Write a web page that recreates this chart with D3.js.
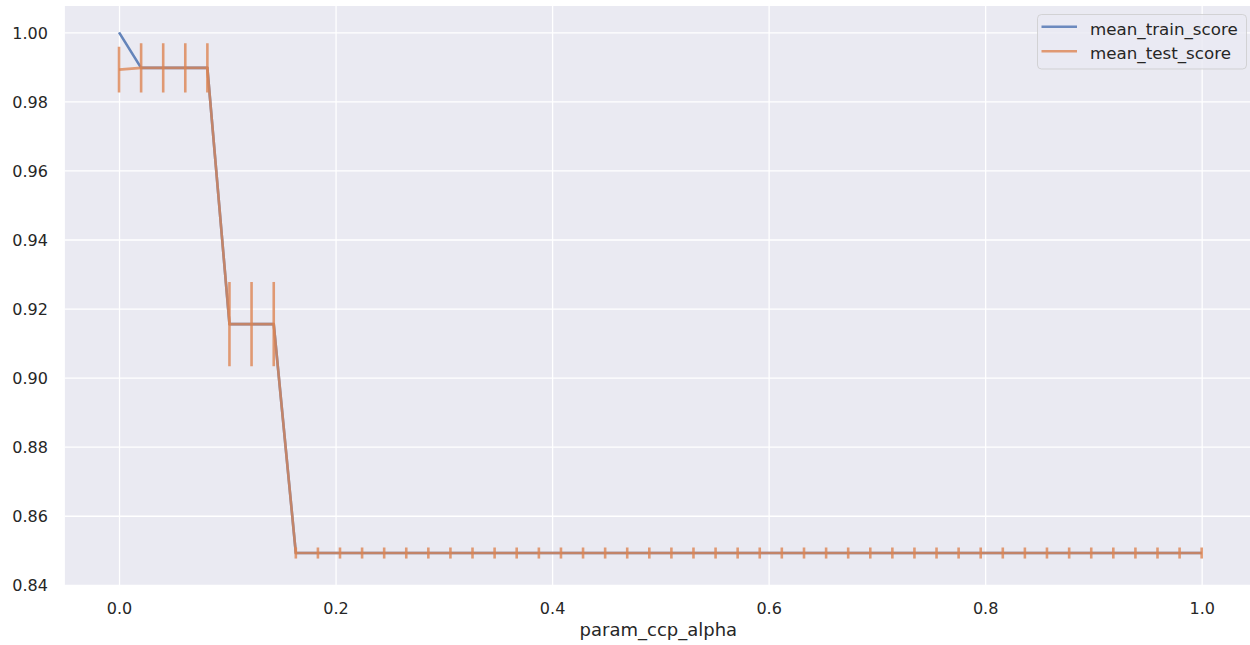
<!DOCTYPE html>
<html>
<head>
<meta charset="utf-8">
<script src="https://cdn.jsdelivr.net/npm/d3@7"></script>
<style>
  html, body { margin: 0; padding: 0; background: #ffffff; }
  svg { display: block; }
  text { font-family: "DejaVu Sans", sans-serif; fill: #262626; }
</style>
</head>
<body>
<div id="chart"></div>
<script>
// ---- data ----
const ccpAlpha = [0.0000, 0.0204, 0.0408, 0.0612, 0.0816, 0.1020, 0.1224, 0.1429, 0.1633, 0.1837,
  0.2041, 0.2245, 0.2449, 0.2653, 0.2857, 0.3061, 0.3265, 0.3469, 0.3673, 0.3878,
  0.4082, 0.4286, 0.4490, 0.4694, 0.4898, 0.5102, 0.5306, 0.5510, 0.5714, 0.5918,
  0.6122, 0.6327, 0.6531, 0.6735, 0.6939, 0.7143, 0.7347, 0.7551, 0.7755, 0.7959,
  0.8163, 0.8367, 0.8571, 0.8776, 0.8980, 0.9184, 0.9388, 0.9592, 0.9796, 1.0000];
const meanTrainScore = [1.0000, 0.9897, 0.9897, 0.9897, 0.9897, 0.9155, 0.9155, 0.9155,
  0.8492, 0.8492, 0.8492, 0.8492, 0.8492, 0.8492, 0.8492, 0.8492, 0.8492, 0.8492, 0.8492, 0.8492,
  0.8492, 0.8492, 0.8492, 0.8492, 0.8492, 0.8492, 0.8492, 0.8492, 0.8492, 0.8492,
  0.8492, 0.8492, 0.8492, 0.8492, 0.8492, 0.8492, 0.8492, 0.8492, 0.8492, 0.8492,
  0.8492, 0.8492, 0.8492, 0.8492, 0.8492, 0.8492, 0.8492, 0.8492, 0.8492, 0.8492];
const meanTestScore = [0.9892, 0.9897, 0.9897, 0.9897, 0.9897, 0.9155, 0.9155, 0.9155,
  0.8492, 0.8492, 0.8492, 0.8492, 0.8492, 0.8492, 0.8492, 0.8492, 0.8492, 0.8492, 0.8492, 0.8492,
  0.8492, 0.8492, 0.8492, 0.8492, 0.8492, 0.8492, 0.8492, 0.8492, 0.8492, 0.8492,
  0.8492, 0.8492, 0.8492, 0.8492, 0.8492, 0.8492, 0.8492, 0.8492, 0.8492, 0.8492,
  0.8492, 0.8492, 0.8492, 0.8492, 0.8492, 0.8492, 0.8492, 0.8492, 0.8492, 0.8492];
const stdTestScore = [0.0066, 0.0071, 0.0071, 0.0071, 0.0071, 0.0122, 0.0122, 0.0122,
  0.0016, 0.0016, 0.0016, 0.0016, 0.0016, 0.0016, 0.0016, 0.0016, 0.0016, 0.0016, 0.0016, 0.0016,
  0.0016, 0.0016, 0.0016, 0.0016, 0.0016, 0.0016, 0.0016, 0.0016, 0.0016, 0.0016,
  0.0016, 0.0016, 0.0016, 0.0016, 0.0016, 0.0016, 0.0016, 0.0016, 0.0016, 0.0016,
  0.0016, 0.0016, 0.0016, 0.0016, 0.0016, 0.0016, 0.0016, 0.0016, 0.0016, 0.0016];
const xTicks = [0.0, 0.2, 0.4, 0.6, 0.8, 1.0];
const yTicks = [0.84, 0.86, 0.88, 0.90, 0.92, 0.94, 0.96, 0.98, 1.00];
const seriesNames = ["mean_train_score", "mean_test_score"];
const xLabel = "param_ccp_alpha";

// ---- layout ----
const W = 1250, H = 645;
const plot = { left: 64.9, right: 1255.8, top: 6, bottom: 585 };
const colors = ["#4c72b0", "#dd8452"];

const svg = d3.select("#chart").append("svg").attr("width", W).attr("height", H);

const x = d3.scaleLinear().domain([-0.05, 1.05]).range([plot.left, plot.right]);
const y = d3.scaleLinear().domain([0.83994, 1.00762]).range([plot.bottom, plot.top]);

svg.append("rect")
  .attr("x", plot.left).attr("y", plot.top)
  .attr("width", plot.right - plot.left).attr("height", plot.bottom - plot.top)
  .attr("fill", "#eaeaf2");

// gridlines via axes
const gx = svg.append("g").attr("transform", `translate(0,${plot.bottom})`)
  .call(d3.axisBottom(x).tickValues(xTicks).tickSize(-(plot.bottom - plot.top)).tickFormat(d3.format(".1f")).tickPadding(12));
const gy = svg.append("g").attr("transform", `translate(${plot.left},0)`)
  .call(d3.axisLeft(y).tickValues(yTicks).tickSize(-(plot.right - plot.left)).tickFormat(d3.format(".2f")).tickPadding(17));
[gx, gy].forEach(g => {
  g.select(".domain").remove();
  g.selectAll(".tick line").attr("stroke", "#ffffff").attr("stroke-width", 1.3);
  g.selectAll(".tick text").attr("fill", "#262626").style("font-size", "16px").style("font-family", "DejaVu Sans, sans-serif");
});
gx.selectAll(".tick text").attr("dy", null).attr("y", null).attr("transform", "translate(0,29)");
gy.selectAll(".tick text").attr("dy", "0.36em");

// x axis label
svg.append("text")
  .attr("x", (plot.left + plot.right) / 2 - 2).attr("y", 636)
  .attr("text-anchor", "middle").style("font-size", "18px")
  .text(xLabel);

svg.append("clipPath").attr("id", "clip").append("rect")
  .attr("x", plot.left).attr("y", plot.top)
  .attr("width", plot.right - plot.left).attr("height", plot.bottom - plot.top);
const layer = svg.append("g").attr("clip-path", "url(#clip)");

const line = d3.line().x(d => x(d[0])).y(d => y(d[1]));
const LW = 2.6;

// train line
layer.append("path")
  .datum(ccpAlpha.map((a, i) => [a, meanTrainScore[i]]))
  .attr("d", line).attr("fill", "none")
  .attr("stroke", colors[0]).attr("stroke-opacity", 0.85)
  .attr("stroke-width", LW).attr("stroke-linejoin", "round");

// error bars
layer.append("g").selectAll("line").data(ccpAlpha.map((a, i) => [a, meanTestScore[i], stdTestScore[i]]))
  .join("line")
  .attr("x1", d => x(d[0])).attr("x2", d => x(d[0]))
  .attr("y1", d => y(d[1] - d[2])).attr("y2", d => y(d[1] + d[2]))
  .attr("stroke", colors[1]).attr("stroke-opacity", 0.8).attr("stroke-width", LW);

// test line
layer.append("path")
  .datum(ccpAlpha.map((a, i) => [a, meanTestScore[i]]))
  .attr("d", line).attr("fill", "none")
  .attr("stroke", colors[1]).attr("stroke-opacity", 0.78)
  .attr("stroke-width", LW).attr("stroke-linejoin", "round");

// legend
const lg = svg.append("g");
lg.append("rect")
  .attr("x", 1037.5).attr("y", 14.5).attr("width", 209).attr("height", 54.5)
  .attr("rx", 4).attr("ry", 4)
  .attr("fill", "#eaeaf2").attr("fill-opacity", 0.8)
  .attr("stroke", "#cccccc").attr("stroke-opacity", 0.8).attr("stroke-width", 1);
seriesNames.forEach((name, i) => {
  const yy = 26.8 + i * 24.5;
  lg.append("line").attr("x1", 1041.5).attr("x2", 1077).attr("y1", yy).attr("y2", yy)
    .attr("stroke", colors[i]).attr("stroke-opacity", 0.8).attr("stroke-width", LW);
  lg.append("text").attr("x", 1090).attr("y", 35 + i * 23.5)
    .style("font-size", "16.7px").text(name);
});
</script>
</body>
</html>
